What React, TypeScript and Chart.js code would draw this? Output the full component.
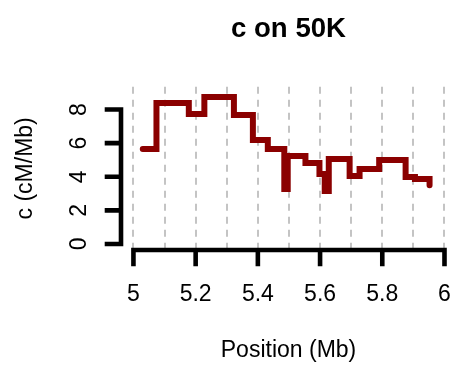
import React, { useEffect, useRef } from 'react';
import { Chart, registerables } from 'chart.js';

Chart.register(...registerables);

// Step positions (Mb) and recombination rate (cM/Mb)
const positions = [5.03, 5.074, 5.178, 5.228, 5.323, 5.384, 5.432, 5.485, 5.496, 5.553, 5.598, 5.615, 5.628, 5.695, 5.727, 5.79, 5.875, 5.905, 5.952];
const rates = [5.65, 8.39, 7.74, 8.75, 7.68, 6.19, 5.65, 3.27, 5.24, 4.82, 4.17, 3.15, 5.06, 4.05, 4.46, 5.0, 3.99, 3.87, 3.5];

const xGridValues = [5.0, 5.1, 5.2, 5.3, 5.4, 5.5, 5.6, 5.7, 5.8, 5.9, 6.0];
const xLabelValues = [5.0, 5.2, 5.4, 5.6, 5.8, 6.0];
const xTickLabels = ['5', '5.2', '5.4', '5.6', '5.8', '6'];
const yTickValues = [0, 2, 4, 6, 8];
const yTickLabels = ['0', '2', '4', '6', '8'];

const titleText = 'c on 50K';
const xTitle = 'Position (Mb)';
const yTitle = 'c (cM/Mb)';

const FONT = "'Liberation Sans', Arial, Helvetica, sans-serif";
const FS = 23;

const axesPlugin = {
  id: 'rAxes',
  afterDraw(chart: any) {
    const { ctx, chartArea, scales } = chart;
    const xs = scales.x;
    const ys = scales.y;
    ctx.save();
    ctx.strokeStyle = '#000';
    ctx.lineWidth = 4.6;
    ctx.lineCap = 'square';
    const tick = 14;
    // y axis
    const yl = chartArea.left;
    ctx.beginPath();
    ctx.moveTo(yl, ys.getPixelForValue(yTickValues[0]));
    ctx.lineTo(yl, ys.getPixelForValue(yTickValues[yTickValues.length - 1]));
    yTickValues.forEach((v) => {
      const py = ys.getPixelForValue(v);
      ctx.moveTo(yl, py);
      ctx.lineTo(yl - tick, py);
    });
    ctx.stroke();
    // x axis
    const xb = chartArea.bottom;
    ctx.beginPath();
    ctx.moveTo(xs.getPixelForValue(xLabelValues[0]), xb);
    ctx.lineTo(xs.getPixelForValue(xLabelValues[xLabelValues.length - 1]), xb);
    xLabelValues.forEach((v) => {
      const px = xs.getPixelForValue(v);
      ctx.moveTo(px, xb);
      ctx.lineTo(px, xb + tick);
    });
    ctx.stroke();
    ctx.restore();
  },
};

export default function App() {
  const ref = useRef<HTMLCanvasElement>(null);

  useEffect(() => {
    Chart.defaults.font.family = FONT;
    const chart = new Chart(ref.current as HTMLCanvasElement, {
      type: 'line',
      data: {
        datasets: [
          {
            data: positions.map((p, i) => ({ x: p, y: rates[i] })),
            stepped: 'before',
            borderColor: '#8B0000',
            borderWidth: 6,
            pointRadius: 0,
            fill: false,
            borderCapStyle: 'round',
            borderJoinStyle: 'miter',
          },
        ],
      },
      options: {
        animation: false,
        responsive: false,
        devicePixelRatio: 1,
        layout: { padding: 0 },
        plugins: {
          legend: { display: false },
          tooltip: { enabled: false },
          title: {
            display: true,
            text: titleText,
            color: '#000',
            fullSize: false,
            font: { family: FONT, size: 27.6, weight: 'bold' },
            padding: { top: 12.4, bottom: 41.2 },
          },
        },
        scales: {
          x: {
            type: 'linear',
            min: 4.96,
            max: 6.037,
            afterBuildTicks: (s: any) => {
              s.ticks = xGridValues.map((v) => ({ value: v }));
            },
            afterFit: (s: any) => {
              s.height = 116;
            },
            grid: {
              display: true,
              color: '#c4c4c4',
              lineWidth: 2,
              drawTicks: true,
              tickLength: 31.2,
              tickColor: 'rgba(0,0,0,0)',
            },
            border: { display: false, dash: [7, 6] },
            ticks: {
              autoSkip: false,
              maxRotation: 0,
              minRotation: 0,
              padding: 0,
              color: '#000',
              font: { family: FONT, size: FS },
              callback: (value: any) => {
                const i = xLabelValues.findIndex((v) => Math.abs(v - Number(value)) < 1e-9);
                return i >= 0 ? xTickLabels[i] : '';
              },
            },
            title: {
              display: true,
              text: xTitle,
              color: '#000',
              font: { family: FONT, size: FS },
              padding: { top: 0, bottom: 1.2 },
            },
          },
          y: {
            type: 'linear',
            min: -0.36,
            max: 9.36,
            afterBuildTicks: (s: any) => {
              s.ticks = yTickValues.map((v) => ({ value: v }));
            },
            afterFit: (s: any) => {
              s.width = 121;
            },
            grid: {
              display: true,
              drawOnChartArea: false,
              drawTicks: true,
              tickLength: 34.6,
              tickColor: 'rgba(0,0,0,0)',
            },
            border: { display: false },
            ticks: {
              autoSkip: false,
              minRotation: 90,
              maxRotation: 90,
              crossAlign: 'center',
              padding: 0,
              color: '#000',
              font: { family: FONT, size: FS },
              callback: (value: any) => {
                const i = yTickValues.indexOf(Number(value));
                return i >= 0 ? yTickLabels[i] : '';
              },
            },
            title: {
              display: true,
              text: yTitle,
              color: '#000',
              font: { family: FONT, size: FS },
              padding: { top: 12.2, bottom: 0 },
            },
          },
        },
      } as any,
      plugins: [axesPlugin],
    });
    return () => chart.destroy();
  }, []);

  return (
    <div style={{ position: 'absolute', left: 0, top: 0, width: 456, height: 366 }}>
      <canvas ref={ref} width={456} height={366} style={{ display: 'block' }} />
    </div>
  );
}
